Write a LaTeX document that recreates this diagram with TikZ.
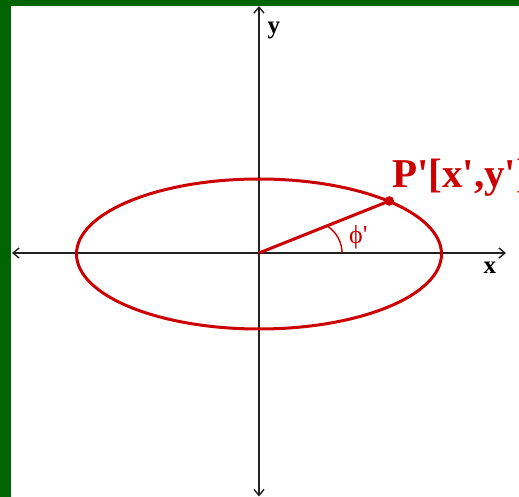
\documentclass[tikz,border=0pt]{standalone}
\usepackage{fontspec}
\setmainfont{Liberation Serif}
\usetikzlibrary{arrows.meta}
\definecolor{framegreen}{RGB}{0,100,0}
\definecolor{ellred}{RGB}{204,0,0}
\definecolor{axisgray}{RGB}{34,34,34}
\tikzset{
  axisline/.style={draw=axisgray, line width=1.4pt, arrows={Straight Barb[length=6pt,width=10pt]-Straight Barb[length=6pt,width=10pt]}},
  ellline/.style={draw=ellred, line width=3pt},
  radline/.style={draw=ellred, line width=3pt},
  angarc/.style={draw=ellred, line width=1.4pt},
  axlabel/.style={inner sep=0pt, anchor=base west, font=\fontsize{25}{25}\selectfont\bfseries, text=black},
  plabel/.style={inner sep=0pt, anchor=base west, font=\fontsize{41}{41}\selectfont\bfseries, text=ellred},
  philabel/.style={inner sep=0pt, anchor=base west, font=\fontsize{26}{26}\selectfont, text=ellred},
}
\begin{document}
\begin{tikzpicture}[x=1pt,y=1pt]
  \useasboundingbox (0,0) rectangle (519,497);
  \clip (0,0) rectangle (519,497);
  % green frame
  \fill[framegreen] (0,0) rectangle (11,497);
  \fill[framegreen] (0,491) rectangle (519,497);
  % coordinates
  \coordinate (O) at (259,244);
  \coordinate (xl) at (12,244);
  \coordinate (xr) at (506,244);
  \coordinate (yt) at (259,491);
  \coordinate (yb) at (259,0.5);
  \coordinate (C) at (259,243);
  \coordinate (P) at (389.3,296);
  \coordinate (A0) at (342,244);
  % axes
  \draw[axisline] (xl) -- (xr);
  \draw[axisline] (yb) -- (yt);
  % ellipse
  \draw[ellline] (C) ellipse [x radius=182.5, y radius=75];
  % radius and point
  \draw[radline] (O) -- (P);
  \fill[ellred] (P) circle (4.8);
  % angle arc
  \draw[angarc] (A0) arc [start angle=0, end angle=57, radius=32];
  % labels
  \node[axlabel] (ylab) at (267.5,463.5) {y};
  \node[axlabel] (xlab) at (483.5,223) {x};
  \node[philabel] (phi) at (349,253) {ϕ\textquotesingle};
  \node[plabel] (plab) at (392,309) {P\textquotesingle[x\textquotesingle,y\textquotesingle]};
\end{tikzpicture}
\end{document}
